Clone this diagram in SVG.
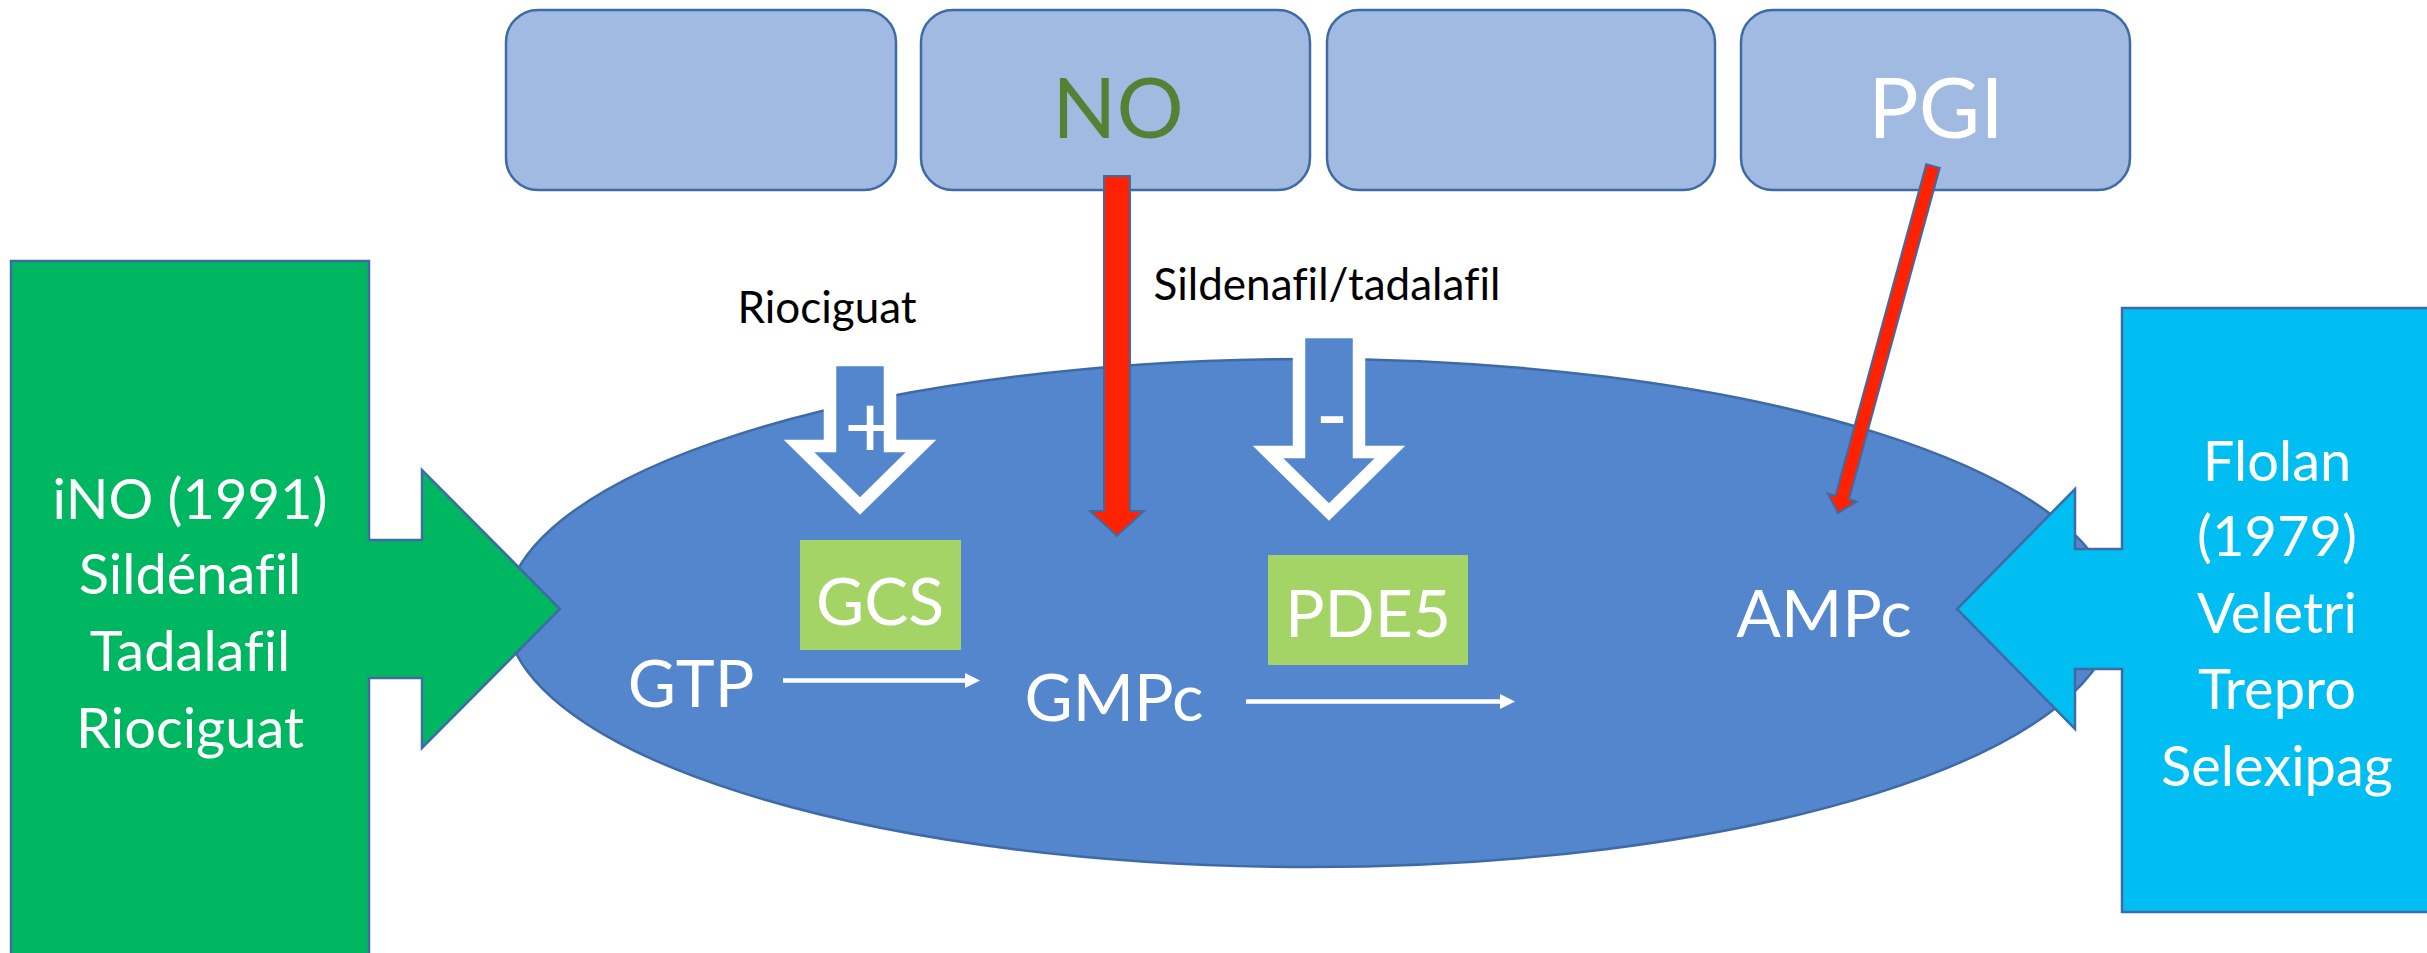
<svg xmlns="http://www.w3.org/2000/svg" width="2427" height="953" viewBox="0 0 2427 953">
<style>
.box{fill:#A0BAE2;stroke:#3E6BA6;stroke-width:2.5}
.ol{stroke:#3E6BA6;stroke-width:2.5}
.t{font-family:Lato,"Open Sans",sans-serif;text-anchor:middle;font-variant-ligatures:none;font-feature-settings:"liga" 0}
.w{fill:#fff}
.big{font-size:56px}
.mid{font-size:66px}
.top{font-size:84px}
.lbl{font-size:44px;fill:#000}
.hollow{fill:#5486CE;stroke:#fff;stroke-width:12.5;stroke-miterlimit:10}
.red{fill:#FF2200;stroke:#3E6BA6;stroke-width:2}
.flow{stroke:#fff;stroke-width:4.5;fill:none}
</style>
<rect width="2427" height="953" fill="#fff"/>
<g id="box1"><rect class="box" x="506" y="10" width="390" height="180" rx="32"/></g>
<g id="box-no"><rect class="box" x="921" y="10" width="389" height="180" rx="32"/><text class="t top" x="1118" y="138" fill="#548235">NO</text></g>
<g id="box3"><rect class="box" x="1327" y="10" width="388" height="180" rx="32"/></g>
<g id="box-pgi"><rect class="box" x="1741" y="10" width="389" height="180" rx="32"/><text class="t top w" x="1936" y="138">PGI</text></g>
<g id="cell"><ellipse cx="1310" cy="613" rx="804" ry="254" fill="#5486CE" stroke="#3E6BA6" stroke-width="2.5"/></g>
<g id="left-drugs">
<path class="ol" fill="#00B761" d="M11,261 H369 V540 H422 V470 L560,609 L422,748 V678 H369 V965 H11 Z"/>
<text class="t big w" x="190" y="519">iNO (1991)</text>
<text class="t big w" x="190" y="594">Sildénafil</text>
<text class="t big w" x="190" y="671">Tadalafil</text>
<text class="t big w" x="190" y="748">Riociguat</text>
</g>
<g id="right-drugs">
<path class="ol" fill="#00BEF2" d="M2445,308 H2122 V549 H2075 V489 L1957,609 L2075,729 V669 H2122 V912 H2445 Z"/>
<text class="t big w" x="2277" y="481">Flolan</text>
<text class="t big w" x="2277" y="556">(1979)</text>
<text class="t big w" x="2277" y="633">Veletri</text>
<text class="t big w" x="2277" y="709">Trepro</text>
<text class="t big w" x="2277" y="786">Selexipag</text>
</g>
<g id="riociguat">
<text class="t lbl" x="827" y="323">Riociguat</text>
<polygon class="hollow" points="830,360 890,360 890,446 921,446 860,506 799,446 830,446"/>
<text class="t w" x="870" y="458" style="font-size:90px">+</text>
</g>
<g id="sildenafil">
<text class="t lbl" x="1327" y="300">Sildenafil/tadalafil</text>
<polygon class="hollow" points="1299,332 1359,332 1359,452 1390,452 1329,512 1268,452 1299,452"/>
<text class="t w" x="1332" y="446" style="font-size:90px">-</text>
</g>
<g id="gcs"><rect x="800" y="540" width="161" height="110" fill="#A3D465"/><text class="t mid w" x="880" y="625">GCS</text></g>
<g id="pde5"><rect x="1268" y="555" width="200" height="110" fill="#A3D465"/><text class="t mid w" x="1368" y="637">PDE5</text></g>
<g id="gtp"><text class="t mid w" x="691" y="707">GTP</text></g>
<g id="gmpc"><text class="t mid w" x="1114" y="721">GMPc</text></g>
<g id="ampc"><text class="t mid w" x="1824" y="637">AMPc</text></g>
<g id="connectors">
<polygon class="red" points="1104,176 1130,176 1130,511 1144,511 1117,536 1090,511 1104,511"/>
<polygon class="red" points="1926.25,164.15 1939.75,167.85 1848.95,499.45 1856.67,501.56 1838,513 1827.73,493.64 1835.45,495.75"/>
<line class="flow" x1="783" y1="680.5" x2="968" y2="680.5"/>
<polygon class="w" points="965,673 980,680.5 965,688"/>
<line class="flow" x1="1246" y1="701.5" x2="1503" y2="701.5"/>
<polygon class="w" points="1500,694 1515,701.5 1500,709"/>
</g>
</svg>
